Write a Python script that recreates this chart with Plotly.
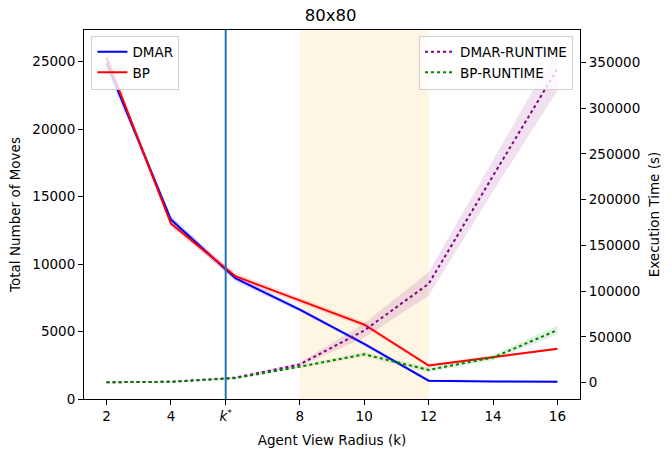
import plotly.graph_objects as go

# ---- data ----
k_values = [2, 4, 6, 8, 10, 12, 14, 16]
K_STAR = 5.7
highlight_range = [8, 12]

dmar_moves = [24900, 13300, 8950, 6620, 4080, 1360, 1300, 1280]
dmar_moves_ci = [450, 300, 250, 150, 150, 100, 80, 80]
bp_moves = [25300, 13000, 9100, 7300, 5520, 2480, 3120, 3720]
bp_moves_ci = [400, 250, 250, 200, 200, 120, 100, 100]

dmar_runtime = [500, 1000, 5500, 20000, 57000, 108000, 226000, 343000]
dmar_runtime_ci = [200, 300, 600, 2000, 8000, 13000, 17000, 24000]
bp_runtime = [500, 1000, 5000, 17500, 31000, 14000, 27500, 57500]
bp_runtime_ci = [200, 300, 500, 1500, 2500, 2500, 3000, 5000]

x_tickvals = [2, 4, K_STAR, 8, 10, 12, 14, 16]
x_ticktext = ["2", "4", "<i>k</i><sup>*</sup>", "8", "10", "12", "14", "16"]
y_tickvals = [0, 5000, 10000, 15000, 20000, 25000]
y2_tickvals = [0, 50000, 100000, 150000, 200000, 250000, 300000, 350000]

FONT = "DejaVu Sans"
FS = 13.5
fig = go.Figure()


def band(x, y, ci, color, yaxis):
    upper = [a + b for a, b in zip(y, ci)]
    lower = [a - b for a, b in zip(y, ci)]
    fig.add_trace(go.Scatter(x=x + x[::-1], y=upper + lower[::-1], fill="toself",
                             fillcolor=color, line=dict(width=0), hoverinfo="skip",
                             showlegend=False, yaxis=yaxis, mode="lines"))


band(k_values, dmar_moves, dmar_moves_ci, "rgba(0,0,255,0.13)", "y")
band(k_values, bp_moves, bp_moves_ci, "rgba(255,0,0,0.13)", "y")
band(k_values, dmar_runtime, dmar_runtime_ci, "rgba(128,0,128,0.12)", "y2")
band(k_values, bp_runtime, bp_runtime_ci, "rgba(0,128,0,0.12)", "y2")

fig.add_trace(go.Scatter(x=k_values, y=dmar_moves, mode="lines", name="DMAR",
                         line=dict(color="blue", width=2), legend="legend"))
fig.add_trace(go.Scatter(x=k_values, y=bp_moves, mode="lines", name="BP",
                         line=dict(color="red", width=2), legend="legend"))
fig.add_trace(go.Scatter(x=k_values, y=dmar_runtime, mode="lines", name="DMAR-RUNTIME",
                         line=dict(color="purple", width=2, dash="dot"), yaxis="y2",
                         legend="legend2"))
fig.add_trace(go.Scatter(x=k_values, y=bp_runtime, mode="lines", name="BP-RUNTIME",
                         line=dict(color="green", width=2, dash="dot"), yaxis="y2",
                         legend="legend2"))

fig.add_vrect(x0=highlight_range[0], x1=highlight_range[1], fillcolor="rgba(255,165,0,0.11)",
              line_width=0, layer="below")
fig.add_vline(x=K_STAR, line=dict(color="#1f77b4", width=2))

axis_common = dict(showgrid=False, zeroline=False, showline=True, linecolor="black",
                   linewidth=1.1, ticks="outside", ticklen=5, tickwidth=1.1,
                   tickcolor="black", automargin=False,
                   tickfont=dict(family=FONT, size=FS, color="black"))

legend_common = dict(bgcolor="rgba(255,255,255,0.8)", bordercolor="#d0d0d0", borderwidth=1,
                     font=dict(family=FONT, size=FS, color="black"), tracegroupgap=0,
                     itemwidth=30)

fig.update_layout(
    width=672, height=457,
    margin=dict(l=84, r=92, t=30, b=58, autoexpand=False),
    plot_bgcolor="white", paper_bgcolor="white",
    font=dict(family=FONT, size=FS, color="black"),
    title=dict(text="80x80", x=0.492, xanchor="center", y=0.967, yanchor="middle",
               font=dict(family=FONT, size=16.5, color="black")),
    xaxis=dict(axis_common, range=[1.3, 16.7], tickvals=x_tickvals, ticktext=x_ticktext,
               mirror=True,
               title=dict(text="Agent View Radius (k)", font=dict(family=FONT, size=FS),
                          standoff=12)),
    yaxis=dict(axis_common, range=[0, 27350], tickvals=y_tickvals,
               ticktext=[str(v) for v in y_tickvals],
               title=dict(text="Total Number of Moves", font=dict(family=FONT, size=FS),
                          standoff=8)),
    yaxis2=dict(axis_common, overlaying="y", side="right", range=[-17800, 385300],
                tickvals=y2_tickvals, ticktext=[str(v) for v in y2_tickvals],
                title=dict(text="Execution Time (s)", font=dict(family=FONT, size=FS),
                           standoff=10)),
    legend=dict(legend_common, x=0.015, y=0.985, xanchor="left", yanchor="top"),
    legend2=dict(legend_common, x=0.986, y=0.985, xanchor="right", yanchor="top"),
)

fig.write_html("out.html", config={"displayModeBar": False},
               post_script="document.body.style.margin='0';document.body.style.padding='0';")
